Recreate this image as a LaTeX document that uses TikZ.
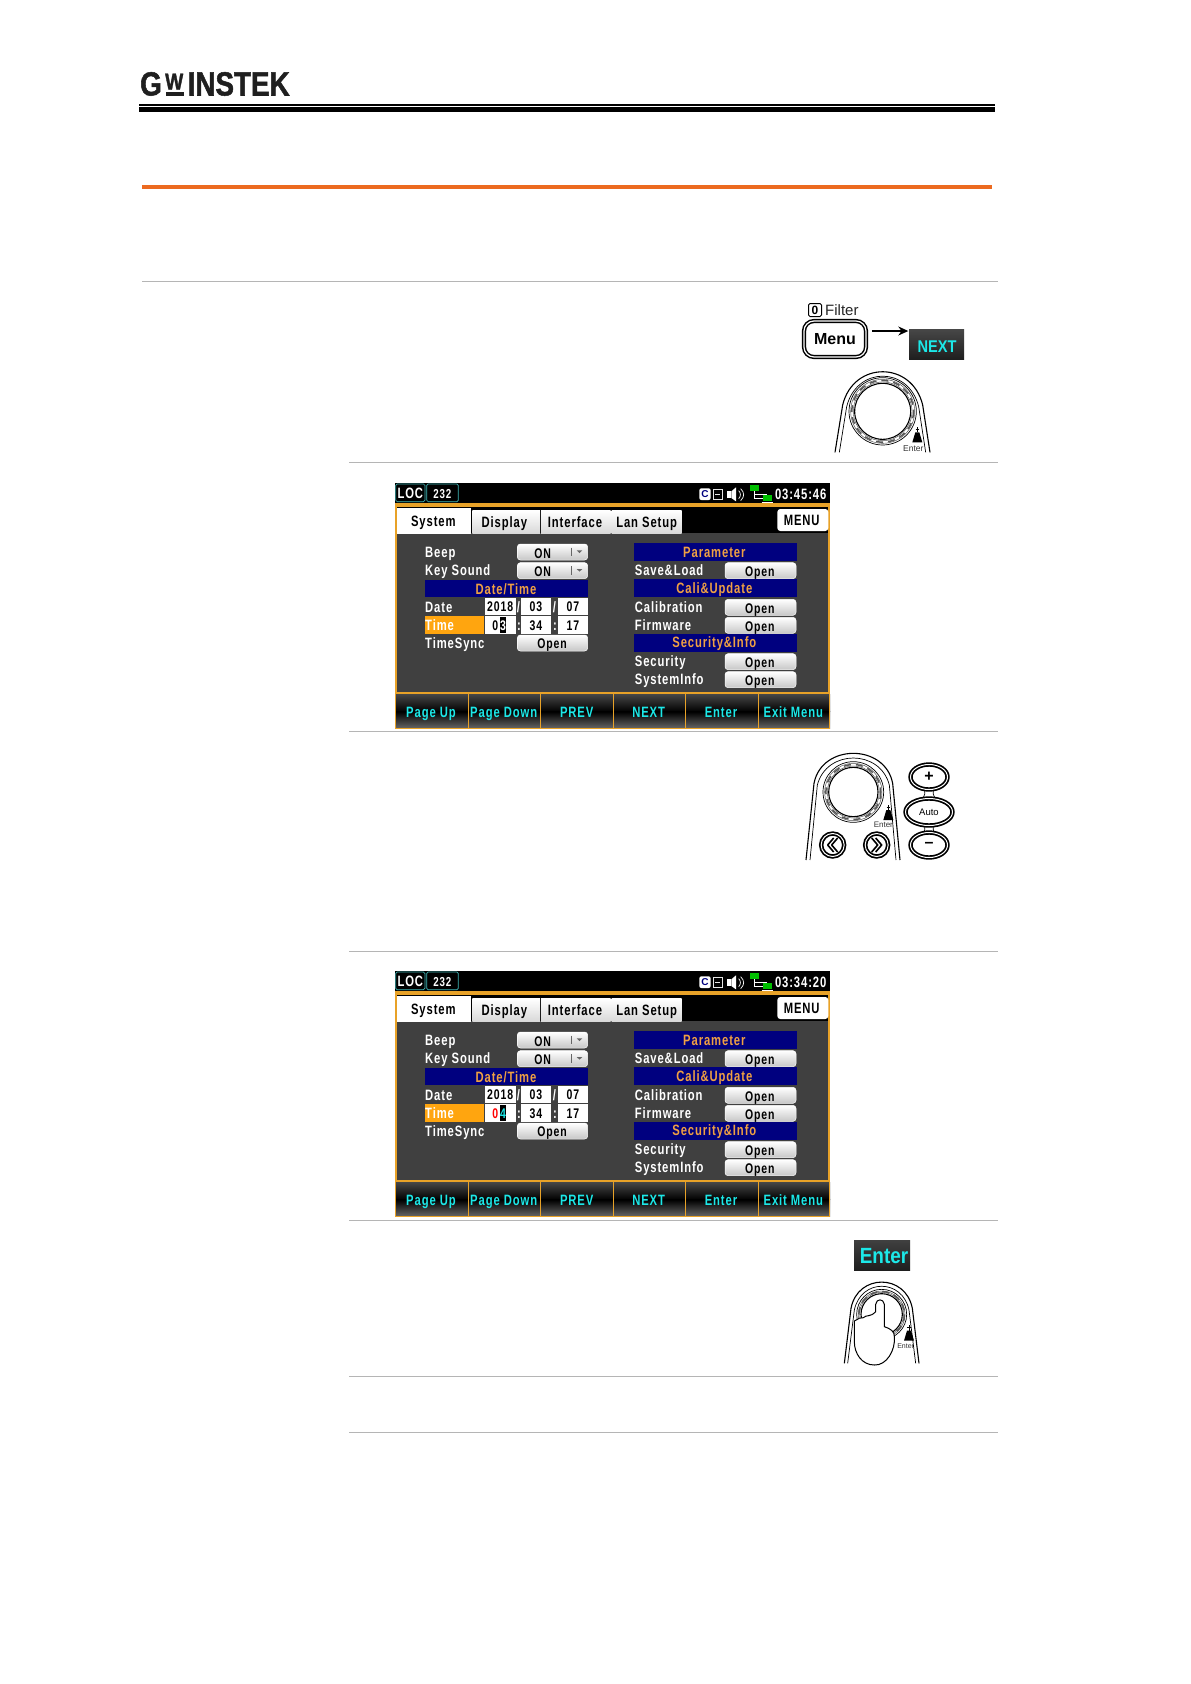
\documentclass[tikz,border=0pt]{standalone}
\usepackage{fontspec}
\setmainfont{Liberation Sans}
\newfontfamily\scrfont[LetterSpace=6,FakeStretch=0.75]{Liberation Sans}
\newfontfamily\softbig[FakeStretch=0.86]{Liberation Sans}
\newfontfamily\logofont[FakeStretch=0.83,FakeBold=1.5]{Liberation Sans}
\usetikzlibrary{shapes.geometric,arrows.meta}
\definecolor{bodygray}{HTML}{404040}
\definecolor{bandnavy}{HTML}{00007F}
\definecolor{scrorange}{HTML}{FFA50F}
\definecolor{bandorange}{HTML}{EFA043}
\definecolor{edgeorange}{HTML}{E8A228}
\definecolor{softcyan}{HTML}{1CE8E8}
\definecolor{rulegray}{HTML}{B5B5B5}
\definecolor{tealedge}{HTML}{3FB8B8}
\definecolor{ruleorange}{HTML}{EC6A20}
\tikzset{
  x=1pt,y=-1pt,
  rulegrayline/.style={draw=rulegray,line width=0.9},
  scrtext/.style={inner sep=0,text height=10.6pt,text depth=0pt,font=\scrfont\bfseries\fontsize{15}{15}\selectfont},
  lbl/.style={scrtext,text=white,anchor=west},
  bandtxt/.style={scrtext,text=bandorange},
  dark/.style={scrtext,text=black,text height=10pt,font=\scrfont\bfseries\fontsize{14}{14}\selectfont},
  tabtxt/.style={scrtext,text=black},
  softtxt/.style={scrtext,text=softcyan},
  statustxt/.style={scrtext,text=white},
  tabshade/.style={top color=white,bottom color=black!15,draw=none},
  btnshade/.style={top color=white,bottom color=black!22,draw=white,line width=0.5,rounded corners=3},
  softedge/.style={draw=edgeorange,line width=0.7},
  fine/.style={draw=black,line width=0.7},
  hair/.style={draw=black!70,line width=0.45},
  med/.style={draw=black,line width=1.1},
  ringline/.style={draw=black!65,line width=1.5,dash pattern=on 7pt off 5pt},
  tinytxt/.style={inner sep=0,text=black!80},
  pill/.style={ellipse,draw=black,line width=1.7,double=white,double distance=1,fill=white,inner sep=0},
  roundkey/.style={circle,draw=black,line width=1.7,double=white,double distance=1,fill=white,minimum size=23,inner sep=0},
}
\newcommand{\scrnlabel}[5]{\node[#1] (#2) at (#3,#4) {#5};}
\newcommand{\openbtn}[4]{%
  \shade[btnshade] (#2,#3-24) rectangle (#2+#4,#3+24);
  \node[dark] (#1) at (#2+#4/2-2,#3+3) {Open};}
\newcommand{\ddbtn}[2]{%
  \shade[btnshade] (412,#1-24) rectangle (623,#1+24);
  \node[dark] (#2) at (488,#1+3) {ON};
  \draw[black!60,line width=0.5] (575,#1-13) -- (575,#1+13);
  \fill[black!60] (590,#1-5) -- (607,#1-5) -- (598.5,#1+3) -- cycle;}
\newcommand{\field}[4]{%
  \fill[white] (#1,#2) rectangle (#3,#2+53);
  \node[dark] at ({(#1+#3)/2},#2+27) {#4};}
\newcommand{\wheel}[4]{%
  \draw[fine] (#1,#2) circle (#3);
  \draw[hair] (#1,#2) circle (#3-5);
  \draw[med] (#1,#2) circle (#4);
  \draw[hair] (#1,#2) circle (#4+4);
  \draw[ringline] (#1,#2) circle ({(#3+#4)/2});}
\newcommand{\screen}[4]{%
\begin{scope}[shift={(380,470+#1)},scale=1/3]
  \fill[black] (45,40) rectangle (1350,672);
  \fill[bodygray] (50,190) rectangle (1345,665);
  \fill[edgeorange] (45,100) rectangle (1350,112);
  \fill[edgeorange] (45,100) rectangle (50,672);
  \fill[edgeorange] (1345,100) rectangle (1350,672);
  \fill[edgeorange] (45,665) rectangle (1350,672);
  \fill[black] (50,112) rectangle (1345,190);
  % status bar
  \draw[tealedge,line width=0.7,rounded corners=1.5] (47,42) rectangle (135,95);
  \draw[tealedge,line width=0.7,rounded corners=1.5] (140,42) rectangle (235,95);
  \node[statustxt] (#2-loc) at (91,70) {LOC};
  \node[statustxt,text height=9.5pt,font=\scrfont\bfseries\fontsize{13}{13}\selectfont] (#2-232) at (187,70) {232};
  \fill[white,rounded corners=2] (958,55) rectangle (992,90);
  \node[inner sep=0,font=\bfseries\fontsize{10}{10}\selectfont,text=bandnavy] (#2-c) at (975,73) {C};
  \draw[black!10,line width=0.8] (1000,58) rectangle (1026,88);
  \draw[black!10,line width=0.8] (1005,73) -- (1021,73);
  \fill[white] (1040,64) rectangle (1052,84);
  \fill[white] (1054,64) -- (1068,52) -- (1068,94) -- (1054,84) -- cycle;
  \draw[white,line width=0.7] (1076,62) .. controls (1083,68) and (1083,80) .. (1076,86);
  \draw[white,line width=0.7] (1082,56) .. controls (1094,68) and (1094,80) .. (1082,92);
  \draw[white,line width=0.8] (1122,62) -- (1122,85) -- (1148,85) (1122,72) -- (1160,72) -- (1160,75);
  \fill[green!75!black] (1110,45) rectangle (1136,62);
  \fill[green!75!black] (1148,75) rectangle (1175,92);
  \draw[white,line width=0.8] (1145,97) -- (1178,97);
  \node[statustxt] (#2-clock) at (1262,73) {#3};
  % tabs
  \fill[white] (52,115) rectangle (273,192);
  \shade[tabshade] (277,122) rectangle (480,190);
  \shade[tabshade] (483,122) rectangle (692,190);
  \shade[tabshade] (695,122) rectangle (905,190);
  \node[tabtxt] (#2-t1) at (160,154) {System};
  \node[tabtxt] (#2-t2) at (373,157) {Display};
  \node[tabtxt] (#2-t3) at (585,157) {Interface};
  \node[tabtxt] (#2-t4) at (800,157) {Lan Setup};
  \fill[white,rounded corners=3] (1192,117) rectangle (1345,183);
  \node[tabtxt] (#2-menu) at (1265,150) {MENU};
  % left column
  \scrnlabel{lbl}{#2-beep}{135}{248}{Beep}
  \scrnlabel{lbl}{#2-key}{135}{302}{Key Sound}
  \ddbtn{246}{#2-on1}
  \ddbtn{302}{#2-on2}
  \fill[bandnavy] (135,330) rectangle (625,380);
  \node[bandtxt] (#2-dt) at (378,357) {Date/Time};
  \scrnlabel{lbl}{#2-date}{135}{411}{Date}
  \fill[scrorange] (135,437) rectangle (312,492);
  \scrnlabel{lbl}{#2-time}{135}{465}{Time}
  \scrnlabel{lbl}{#2-sync}{135}{520}{TimeSync}
  \field{314}{383}{407}{2018}
  \field{422}{383}{514}{03}
  \field{533}{383}{625}{07}
  \fill[white] (314,438) rectangle (407,491);
  #4
  \field{422}{438}{514}{34}
  \field{533}{438}{625}{17}
  \scrnlabel{lbl}{#2-s1}{410}{411}{/}
  \scrnlabel{lbl}{#2-s2}{518}{411}{/}
  \scrnlabel{lbl}{#2-s3}{411}{465}{:}
  \scrnlabel{lbl}{#2-s4}{519}{465}{:}
  \shade[btnshade] (412,495) rectangle (623,543);
  \node[dark] (#2-sy) at (516,521) {Open};
  % right column
  \fill[bandnavy] (762,220) rectangle (1251,272);
  \fill[bandnavy] (762,328) rectangle (1251,381);
  \fill[bandnavy] (762,492) rectangle (1251,546);
  \node[bandtxt] (#2-par) at (1003,248) {Parameter};
  \node[bandtxt] (#2-cal) at (1003,356) {Cali\&Update};
  \node[bandtxt] (#2-sec) at (1003,518) {Security\&Info};
  \scrnlabel{lbl}{#2-l1}{764}{302}{Save\&Load}
  \scrnlabel{lbl}{#2-l2}{764}{411}{Calibration}
  \scrnlabel{lbl}{#2-l3}{764}{465}{Firmware}
  \scrnlabel{lbl}{#2-l4}{764}{574}{Security}
  \scrnlabel{lbl}{#2-l5}{764}{628}{SystemInfo}
  \openbtn{#2-o1}{1035}{302}{213}
  \openbtn{#2-o2}{1035}{412}{213}
  \openbtn{#2-o3}{1035}{466}{213}
  \openbtn{#2-o4}{1035}{575}{213}
  \openbtn{#2-o5}{1035}{629}{213}
  % softkeys
  \shade[top color=black!72,bottom color=black] (45,672) rectangle (1350,725);
  \shade[top color=black,bottom color=black!60] (45,725) rectangle (1350,775);
  \draw[softedge] (47,672) -- (47,775) -- (1348,775) -- (1348,672);
  \foreach \sx in {266,482,700,916,1136} \draw[softedge] (\sx,672) -- (\sx,775);
  \node[softtxt] (#2-k1) at (153,727) {Page Up};
  \node[softtxt] (#2-k2) at (371,727) {Page Down};
  \node[softtxt] (#2-k3) at (590,727) {PREV};
  \node[softtxt] (#2-k4) at (806,727) {NEXT};
  \node[softtxt] (#2-k5) at (1023,727) {Enter};
  \node[softtxt] (#2-k6) at (1240,727) {Exit Menu};
\end{scope}}
% #1,#2 icon centre; #3 node name; #4,#5 label centre; #6 label size
\newcommand{\entermark}[6]{%
  \fill[black] (#1-15,#2+17) -- (#1-6,#2-13) -- (#1+6,#2-13) -- (#1+15,#2+17) -- cycle;
  \draw[black,line width=0.8] (#1,#2-13) -- (#1,#2-29) (#1-5,#2-22) -- (#1+5,#2-22);
  \node[tinytxt,font=\fontsize{#6}{#6}\selectfont] (#3) at (#4,#5) {Enter};}
\begin{document}
\begin{tikzpicture}
\useasboundingbox (0,0) rectangle (1191,1684);
\fill[white] (0,0) rectangle (1191,1684);
% logo
\node[inner sep=0,anchor=base west,text=black!88,font=\logofont\bfseries\fontsize{33.5}{33.5}\selectfont] (logog) at (140,95.5) {G};
\node[inner sep=0,anchor=base west,text=black!88,font=\logofont\bfseries\fontsize{23}{23}\selectfont] (logow) at (165,89.5) {W};
\fill[black!88] (166,91.5) rectangle (184,95.5);
\node[inner sep=0,anchor=base west,text=black!88,font=\logofont\bfseries\fontsize{33.5}{33.5}\selectfont] (logot) at (187.5,95.5) {INSTEK};
% header rules
\fill[black] (139,104) rectangle (995,106);
\fill[black] (139,107) rectangle (995,112);
\fill[ruleorange] (142,185) rectangle (992,189);
\draw[rulegrayline] (142,281.5) -- (998,281.5);
\draw[rulegrayline] (349,462) -- (998,462);
\draw[rulegrayline] (349,731.5) -- (998,731.5);
\draw[rulegrayline] (349,951.5) -- (998,951.5);
\draw[rulegrayline] (349,1220) -- (998,1220);
\draw[rulegrayline] (349,1376) -- (998,1376);
\draw[rulegrayline] (349,1432) -- (998,1432);
% screens
\screen{0}{sa}{03:45:46}{%
  \fill[black] (360,440) rectangle (378,490);
  \node[dark] (sa-h) at (346,466) {0};
  \node[dark,text=white] (sa-h2) at (369,466) {3};}
\screen{488}{sb}{03:34:20}{%
  \fill[black] (360,440) rectangle (378,490);
  \node[dark,text=red] (sb-h) at (346,466) {0};
  \node[dark,text=softcyan] (sb-h2) at (369,466) {4};}
% Menu -> NEXT
\node[draw=black,line width=1,rounded corners=1.5,inner sep=0,font=\bfseries\fontsize{12}{12}\selectfont,minimum width=13,minimum height=13] (zero) at (815,310) {0};
\node[inner sep=0,anchor=west,font=\fontsize{15}{15}\selectfont,text=black!85] (filter) at (825,310) {Filter};
\node[draw=black,line width=1.5,double=white,double distance=1.2,rounded corners=10,minimum width=62,minimum height=36,inner sep=0,font=\bfseries\fontsize{16}{16}\selectfont] (menubtn) at (835,339) {Menu};
\shade[top color=black!72,bottom color=black!88] (909,329) rectangle (964,359);
\node[softtxt,font=\softbig\bfseries\fontsize{17}{17}\selectfont,text height=12pt,minimum width=55,minimum height=30] (nextbtn) at (937,346) {NEXT};
\draw[black,line width=1.3,-{Stealth[length=10,width=9]}] ([xshift=5pt,yshift=8pt]menubtn.east) -- ([xshift=-1pt,yshift=15pt]nextbtn.west);
% knob 1
\begin{scope}[shift={(830,365)},scale=1/3]
  \draw[med] (15,262) -- (38,120) .. controls (70,-13) and (246,-13) .. (278,120) -- (300,262);
  \draw[fine] (28,262) -- (50,125) .. controls (80,3) and (236,3) .. (266,125) -- (287,262);
  \wheel{158}{139}{101}{84}
  \entermark{262}{215}{en1}{250}{250}{8.5}
\end{scope}
% knob 2 with arrows and pills
\begin{scope}[shift={(800,745)},scale=1/3]
  \draw[med] (18,345) -- (42,115) .. controls (65,-5) and (255,-5) .. (278,115) -- (300,345);
  \draw[fine] (30,345) -- (52,120) .. controls (80,12) and (240,12) .. (268,120) -- (288,345);
  \wheel{160}{141}{91}{74}
  \entermark{265}{208}{en2}{250}{240}{8}
  \node[roundkey] (la) at (98,300) {};
  \node[roundkey] (ra) at (230,300) {};
\end{scope}
\draw[black,line width=1.6,line join=round] ([xshift=1pt,yshift=7pt]la.center) -- ([xshift=-5pt]la.center) -- ([xshift=1pt,yshift=-7pt]la.center) ([xshift=5pt,yshift=7pt]la.center) -- ([xshift=-1pt]la.center) -- ([xshift=5pt,yshift=-7pt]la.center);
\draw[black,line width=1.6,line join=round] ([xshift=-1pt,yshift=7pt]ra.center) -- ([xshift=5pt]ra.center) -- ([xshift=-1pt,yshift=-7pt]ra.center) ([xshift=-5pt,yshift=7pt]ra.center) -- ([xshift=1pt]ra.center) -- ([xshift=-5pt,yshift=-7pt]ra.center);
\draw[fine] (923,786) .. controls (926,792) and (926,795) .. (920,802);
\draw[fine] (935,786) .. controls (932,792) and (932,795) .. (938,802);
\draw[fine] (923,823) .. controls (926,828) and (926,831) .. (920,836);
\draw[fine] (935,823) .. controls (932,828) and (932,831) .. (938,836);
\node[pill,minimum width=37,minimum height=25,font=\bfseries\fontsize{16}{16}\selectfont] (plus) at (929,777) {+};
\node[pill,minimum width=47,minimum height=27,font=\fontsize{9.5}{9.5}\selectfont] (auto) at (929,812) {Auto};
\node[pill,minimum width=37,minimum height=25,font=\bfseries\fontsize{16}{16}\selectfont] (minus) at (929,845) {--};
% Enter key + hand knob
\shade[top color=black!75,bottom color=black!88] (854,1240) rectangle (910,1270);
\node[softtxt,font=\softbig\bfseries\fontsize{22}{22}\selectfont,text height=16pt] (enterbtn) at (884,1255) {Enter};
\begin{scope}[shift={(835,1275)},scale=1/3]
  \draw[med] (28,265) -- (48,100) .. controls (68,-5) and (212,-5) .. (232,100) -- (252,265);
  \draw[fine] (38,265) -- (58,105) .. controls (78,10) and (202,10) .. (222,105) -- (242,265);
  \wheel{140}{118}{75}{62}
  \entermark{222}{180}{en3}{212}{212}{7}
  \filldraw[fill=white,draw=black,line width=1] (122,110) -- (122,88) .. controls (124,70) and (146,70) .. (148,88) -- (148,155)
    .. controls (165,160) and (180,170) .. (178,185) .. controls (182,225) and (155,272) .. (118,270)
    .. controls (80,270) and (58,235) .. (58,200) -- (58,138)
    .. controls (72,132) and (75,125) .. (85,128) .. controls (95,118) and (105,128) .. (122,110) -- cycle;
\end{scope}
\end{tikzpicture}
\end{document}
